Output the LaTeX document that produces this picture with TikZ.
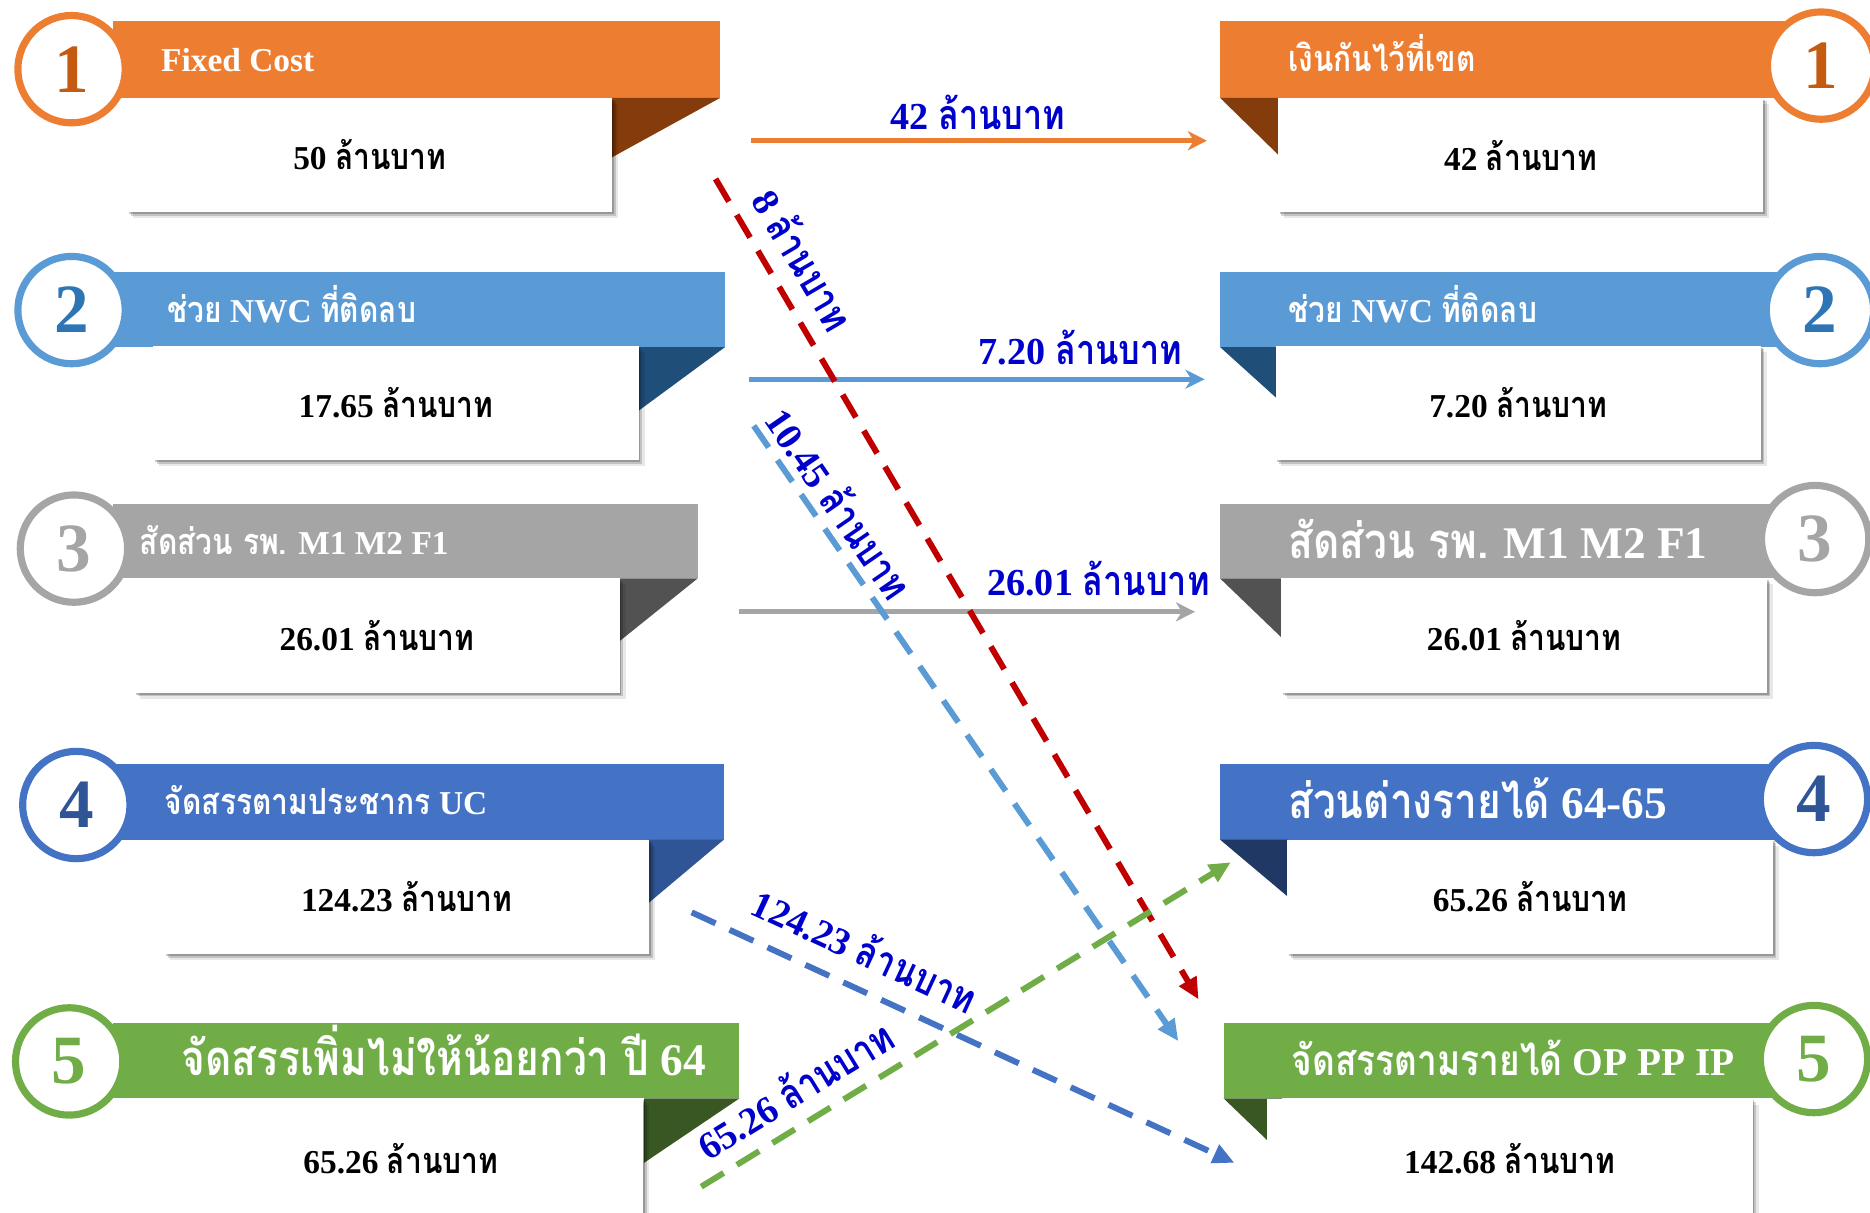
\documentclass[tikz,border=0pt]{standalone}
\usepackage{fontspec}
\setmainfont{Liberation Serif}
\newfontfamily\thaifont[Script=Thai,Scale=1.08,FakeStretch=0.83]{Loma}
\newcommand\tht[1]{{\thaifont #1}}
\usetikzlibrary{arrows.meta,shadows}
\definecolor{cOr}{HTML}{ED7D31}\definecolor{cOrD}{HTML}{843C0C}\definecolor{cOrN}{HTML}{C55A11}
\definecolor{cLb}{HTML}{5B9BD5}\definecolor{cLbD}{HTML}{1F4E79}\definecolor{cLbN}{HTML}{2E75B6}
\definecolor{cGr}{HTML}{A5A5A5}\definecolor{cGrD}{HTML}{525252}\definecolor{cGrN}{HTML}{A5A5A5}
\definecolor{cBl}{HTML}{4472C4}\definecolor{cBlD}{HTML}{2F5597}\definecolor{cBlDR}{HTML}{203864}\definecolor{cBlN}{HTML}{2F5597}
\definecolor{cGn}{HTML}{70AD47}\definecolor{cGnD}{HTML}{385723}\definecolor{cGnN}{HTML}{70AD47}
\definecolor{lblblue}{HTML}{0000CC}\definecolor{cRed}{HTML}{C00000}
\tikzset{
 hdr/.style={anchor=base west,text=white,inner sep=0pt,font=\bfseries\fontsize{28}{32}\selectfont},
 hdrbig/.style={anchor=base west,text=white,inner sep=0pt,font=\bfseries\fontsize{38}{42}\selectfont},
 valbox/.style={fill=white,inner sep=0pt,minimum height=96pt,minimum width=407pt,
   drop shadow={shadow xshift=1.5pt,shadow yshift=-1.5pt,fill=black,opacity=0.22},
   drop shadow={shadow xshift=3pt,shadow yshift=-3pt,fill=black,opacity=0.16},
   drop shadow={shadow xshift=5pt,shadow yshift=-5pt,fill=black,opacity=0.09},
   font=\bfseries\fontsize{28}{32}\selectfont},
 ring/.style={circle,draw=#1,line width=6pt,fill=white,minimum size=90pt,inner sep=0pt,
   font=\bfseries\fontsize{58}{60}\selectfont},
 lbl/.style={text=lblblue,inner sep=1pt,font=\bfseries\fontsize{32}{36}\selectfont},
 solidarr/.style={line width=4pt,-{Stealth[length=16pt,width=16pt,inset=5pt]}},
 dasharr/.style={line width=5pt,dash pattern=on 22pt off 13pt,-{Triangle[length=18pt,width=16pt]}},
}
\begin{document}
\begin{tikzpicture}[x=1pt,y=-1pt]
\clip (0,0) rectangle (1568,1017);
\fill[white] (0,0) rectangle (1568,1017);
% ---------- LEFT ----------
% row 1
\fill[cOr] (95,18) rectangle (604,82);
\fill[cOrD] (513,82) -- (604,82) -- (513,132) -- cycle;
\node[valbox] (L1v) at (310,130) {50 \tht{ล้านบาท}};
\node[hdr] (L1h) at (135,60) {Fixed Cost};
\node[ring=cOr,text=cOrN] (L1c) at (60,58) {1};
% row 2
\fill[cLb] (95,228) rectangle (608,291);
\fill[cLbD] (536,291) -- (608,291) -- (536,344) -- cycle;
\node[valbox] (L2v) at (332,338) {17.65 \tht{ล้านบาท}};
\node[hdr] (L2h) at (140,270) {\tht{ช่วย} NWC \tht{ที่ติดลบ}};
\node[ring=cLb,text=cLbN] (L2c) at (60,260) {2};
% row 3
\fill[cGr] (95,423) rectangle (585,485);
\fill[cGrD] (519,485) -- (585,485) -- (519,538) -- cycle;
\node[valbox] (L3v) at (316,533) {26.01 \tht{ล้านบาท}};
\node[hdr] (L3h) at (117,465) {\tht{สัดส่วน รพ.} M1 M2 F1};
\node[ring=cGr,text=cGrN] (L3c) at (62,460) {3};
% row 4
\fill[cBl] (95,641) rectangle (607,704);
\fill[cBlD] (544,704) -- (607,704) -- (544,757) -- cycle;
\node[valbox] (L4v) at (341,752) {124.23 \tht{ล้านบาท}};
\node[hdr] (L4h) at (138,683) {\tht{จัดสรรตามประชากร} UC};
\node[ring=cBl,text=cBlN] (L4c) at (64,675) {4};
% row 5
\fill[cGn] (95,858) rectangle (620,921);
\fill[cGnD] (540,921) -- (620,921) -- (540,975) -- cycle;
\node[valbox,minimum height=100pt,anchor=north] (L5v) at (336,921) {65.26 \tht{ล้านบาท}};
\node[hdrbig] (L5h) at (152,902) {\tht{จัดสรรเพิ่มไม่ให้น้อยกว่า ปี} 64};
\node[ring=cGn,text=cGnN] (L5c) at (58,890) {5};
% ---------- RIGHT ----------
% row 1
\fill[cOr] (1023,18) rectangle (1520,82);
\fill[cOrD] (1023,82) -- (1072,82) -- (1072,130) -- cycle;
\node[valbox] (R1v) at (1275,130) {42 \tht{ล้านบาท}};
\node[hdr] (R1h) at (1080,60) {\tht{เงินกันไว้ที่เขต}};
\node[ring=cOr,text=cOrN] (R1c) at (1527,55) {1};
% row 2
\fill[cLb] (1023,228) rectangle (1520,291);
\fill[cLbD] (1023,291) -- (1075,291) -- (1075,338) -- cycle;
\node[valbox] (R2v) at (1273,338) {7.20 \tht{ล้านบาท}};
\node[hdr] (R2h) at (1080,270) {\tht{ช่วย} NWC \tht{ที่ติดลบ}};
\node[ring=cLb,text=cLbN] (R2c) at (1526,260) {2};
% row 3
\fill[cGr] (1023,423) rectangle (1500,485);
\fill[cGrD] (1023,485) -- (1075,485) -- (1075,535) -- cycle;
\node[valbox] (R3v) at (1278,533) {26.01 \tht{ล้านบาท}};
\node[hdrbig] (R3h) at (1080,468) {\tht{สัดส่วน รพ.} M1 M2 F1};
\node[ring=cGr,text=cGrN] (R3c) at (1522,452) {3};
% row 4
\fill[cBl] (1023,641) rectangle (1500,704);
\fill[cBlDR] (1023,704) -- (1080,704) -- (1080,752) -- cycle;
\node[valbox] (R4v) at (1283,752) {65.26 \tht{ล้านบาท}};
\node[hdrbig] (R4h) at (1080,686) {\tht{ส่วนต่างรายได้} 64-65};
\node[ring=cBl,text=cBlN] (R4c) at (1521,670) {4};
% row 5
\fill[cGn] (1026,858) rectangle (1500,921);
\fill[cGnD] (1026,921) -- (1075,921) -- (1075,968) -- cycle;
\node[valbox,minimum height=100pt,anchor=north] (R5v) at (1266,921) {142.68 \tht{ล้านบาท}};
\node[hdr,font=\bfseries\fontsize{33}{37}\selectfont] (R5h) at (1083,902) {\tht{จัดสรรตามรายได้} OP PP IP};
\node[ring=cGn,text=cGnN] (R5c) at (1521,888) {5};
% ---------- ARROWS ----------
\coordinate (a1s) at (630,118); \coordinate (a1e) at (1012,118);
\coordinate (a2s) at (628,318); \coordinate (a2e) at (1010,318);
\coordinate (a3s) at (620,513); \coordinate (a3e) at (1002,513);
\coordinate (a4s) at (600,150); \coordinate (a4e) at (1005,838);
\coordinate (a5s) at (632,357); \coordinate (a5e) at (988,873);
\coordinate (a6s) at (580,765); \coordinate (a6e) at (1035,975);
\coordinate (a7s) at (588,995); \coordinate (a7e) at (1032,723);
\draw[solidarr,cOr] (a1s) -- (a1e);
\draw[solidarr,cLb] (a2s) -- (a2e);
\draw[solidarr,cGr] (a3s) -- (a3e);
\node[lbl] (a1l) at (820,94) {42 \tht{ล้านบาท}};
\node[lbl] (a2l) at (906,291) {7.20 \tht{ล้านบาท}};
\node[lbl] (a3l) at (921,485) {26.01 \tht{ล้านบาท}};
\draw[dasharr,cRed] (a4s) -- node[lbl,sloped,above=12pt,pos=0.12] (a4l) {8 \tht{ล้านบาท}} (a4e);
\draw[dasharr,cLb] (a5s) -- node[lbl,sloped,above=5pt,pos=0.15] (a5l) {10.45 \tht{ล้านบาท}} (a5e);
\draw[dasharr,cBl] (a6s) -- node[lbl,sloped,above=15pt,pos=0.29] (a6l) {124.23 \tht{ล้านบาท}} (a6e);
\draw[dasharr,cGn] (a7s) -- node[lbl,sloped,above=11pt,pos=0.21] (a7l) {65.26 \tht{ล้านบาท}} (a7e);
\end{tikzpicture}
\end{document}
